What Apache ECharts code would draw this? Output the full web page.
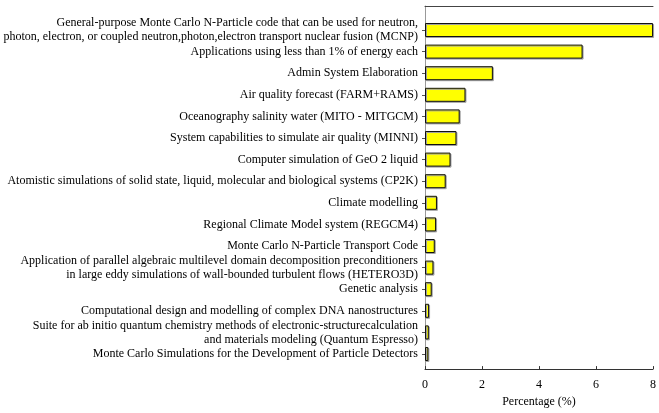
<!DOCTYPE html>
<html>
<head>
<meta charset="utf-8">
<script src="https://cdn.jsdelivr.net/npm/echarts@6/dist/echarts.min.js"></script>
<style>html,body{margin:0;padding:0;background:#fff;}#c{width:659px;height:413px;}</style>
</head>
<body>
<div id="c"></div>
<script>
const categories = [
  "General-purpose Monte Carlo N-Particle code that can be used for neutron,\nphoton, electron, or coupled neutron,photon,electron transport nuclear fusion (MCNP)",
  "Applications using less than 1% of energy each",
  "Admin System Elaboration",
  "Air quality forecast (FARM+RAMS)",
  "Oceanography salinity water (MITO - MITGCM)",
  "System capabilities to simulate air quality (MINNI)",
  "Computer simulation of GeO 2 liquid",
  "Atomistic simulations of solid state, liquid, molecular and biological systems (CP2K)",
  "Climate modelling",
  "Regional Climate Model system (REGCM4)",
  "Monte Carlo N-Particle Transport Code",
  "Application of parallel algebraic multilevel domain decomposition preconditioners\nin large eddy simulations of wall-bounded turbulent flows (HETERO3D)",
  "Genetic analysis",
  "Computational design and modelling of complex DNA nanostructures",
  "Suite for ab initio quantum chemistry methods of electronic-structurecalculation\nand materials modeling (Quantum Espresso)",
  "Monte Carlo Simulations for the Development of Particle Detectors"
];
const percentages = [7.83, 5.41, 2.33, 1.39, 1.19, 1.08, 0.875, 0.71, 0.41, 0.38, 0.335, 0.29, 0.23, 0.14, 0.13, 0.115];
const xTicks = [0, 2, 4, 6, 8];

const font = "Liberation Serif";
const chart = echarts.init(document.getElementById('c'));
chart.setOption({
  animation: false,
  backgroundColor: '#fff',
  grid: [
    {left: 425, right: 1, top: 6, bottom: 35},
    {left: 425, right: 1, top: 19.2, bottom: 48.2}
  ],
  xAxis: [
    {
      gridIndex: 0, type: 'value', min: xTicks[0], max: xTicks[xTicks.length-1], interval: 2,
      axisLine: {show: true, lineStyle: {color: '#333', width: 1}},
      axisTick: {show: true, inside: true, length: 3, lineStyle: {color: '#333'}},
      axisLabel: {fontFamily: font, fontSize: 12, color: '#000', margin: 10},
      splitLine: {show: false},
      name: 'Percentage (%)', nameLocation: 'middle', nameGap: 20,
      nameTextStyle: {fontFamily: font, fontSize: 12, color: '#000'}
    },
    {
      gridIndex: 0, type: 'value', position: 'top', min: 0, max: 8,
      axisLine: {show: true, lineStyle: {color: '#444', width: 1}},
      axisTick: {show: false}, axisLabel: {show: false}, splitLine: {show: false}
    },
    {
      gridIndex: 1, type: 'value', min: 0, max: 8, show: false
    }
  ],
  yAxis: [
    {
      gridIndex: 0, type: 'value', min: 0, max: 1,
      axisLine: {show: true, lineStyle: {color: '#999', width: 1}},
      axisTick: {show: false}, axisLabel: {show: false}, splitLine: {show: false}
    },
    {
      gridIndex: 1, type: 'category', data: categories, inverse: true,
      axisLine: {show: false},
      axisTick: {show: true, alignWithLabel: true, length: 3, lineStyle: {color: '#555'}},
      axisLabel: {fontFamily: font, fontSize: 12, color: '#000', margin: 7, lineHeight: 14, align: 'right', interval: 0},
      splitLine: {show: false}
    }
  ],
  series: [{
    type: 'bar',
    xAxisIndex: 2, yAxisIndex: 1,
    data: percentages,
    barWidth: 14,
    itemStyle: {
      color: '#ffff00', borderColor: '#111', borderWidth: 1,
      shadowColor: '#a0a0a0', shadowBlur: 0, shadowOffsetX: 1, shadowOffsetY: 1
    }
  }]
});
</script>
</body>
</html>
